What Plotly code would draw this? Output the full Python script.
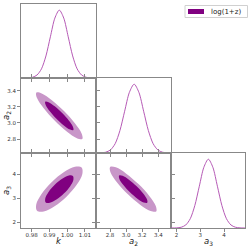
import plotly.graph_objects as go

# ---------------- data ----------------
param_names = ["k", "a2", "a3"]
legend_label = "log(1+z)"

k_range = [0.9741, 1.0162]
a2_range = [2.626, 3.558]
a3_range = [1.77, 4.88]

k_ticks = [0.98, 0.99, 1.00, 1.01]
k_ticklabels = ["0.98", "0.99", "1.00", "1.01"]
a2_ticks = [2.8, 3.0, 3.2, 3.4]
a2_ticklabels = ["2.8", "3.0", "3.2", "3.4"]
a3_ticks = [2, 3, 4]
a3_ticklabels = ["2", "3", "4"]

# 1D marginals (normalised density)
k_1d_x = [0.9741, 0.9781, 0.9806, 0.9831, 0.9856, 0.9881, 0.9906, 0.9931, 0.9956,
          0.9981, 1.0006, 1.0031, 1.0056, 1.0081, 1.0106, 1.0131, 1.0162]
k_1d_p = [0, 0.002, 0.011, 0.044, 0.135, 0.325, 0.607, 0.882, 1.0,
          0.882, 0.607, 0.325, 0.135, 0.044, 0.011, 0.002, 0]
a2_1d_x = [2.626, 2.687, 2.746, 2.805, 2.864, 2.923, 2.982, 3.041, 3.100,
           3.159, 3.218, 3.277, 3.336, 3.395, 3.454, 3.513, 3.558]
a2_1d_p = [0, 0.002, 0.011, 0.044, 0.135, 0.325, 0.607, 0.882, 1.0,
           0.882, 0.607, 0.325, 0.135, 0.044, 0.011, 0.002, 0]
a3_1d_x = [1.77, 2.01, 2.20, 2.39, 2.58, 2.77, 2.96, 3.15, 3.34,
           3.53, 3.72, 3.91, 4.10, 4.29, 4.48, 4.67, 4.88]
a3_1d_p = [0, 0.002, 0.011, 0.044, 0.135, 0.325, 0.607, 0.882, 1.0,
           0.882, 0.607, 0.325, 0.135, 0.044, 0.011, 0.002, 0]

# 2D contours (95% outer, 68% inner), closed boundaries
k_a2_outer_k = [0.99824, 0.99142, 0.98572, 0.98267, 0.98308, 0.98685, 0.99296,
                0.99978, 1.00548, 1.00853, 1.00812, 1.00435, 0.99824]
k_a2_outer_a2 = [3.1468, 3.2828, 3.3667, 3.3759, 3.3080, 3.1811, 3.0292,
                 2.8932, 2.8093, 2.8001, 2.8680, 2.9949, 3.1468]
k_a2_inner_k = [0.99721, 0.99305, 0.98957, 0.98771, 0.98796, 0.99026, 0.99399,
                0.99815, 1.00163, 1.00350, 1.00324, 1.00094, 0.99721]
k_a2_inner_a2 = [3.1239, 3.2069, 3.2582, 3.2638, 3.2223, 3.1448, 3.0521,
                 2.9691, 2.9178, 2.9122, 2.9537, 3.0312, 3.1239]

k_a3_outer_k = [0.99143, 0.98573, 0.98267, 0.98308, 0.98684, 0.99295, 0.99977,
                1.00547, 1.00853, 1.00812, 1.00436, 0.99825, 0.99143]
k_a3_outer_a3 = [3.6792, 3.1902, 2.7522, 2.4823, 2.4530, 2.6721, 3.0808,
                 3.5698, 4.0078, 4.2777, 4.3070, 4.0879, 3.6792]
k_a3_inner_k = [0.99305, 0.98957, 0.98771, 0.98796, 0.99026, 0.99398, 0.99815,
                1.00163, 1.00349, 1.00324, 1.00095, 0.99722, 0.99305]
k_a3_inner_a3 = [3.5626, 3.2641, 2.9968, 2.8320, 2.8141, 2.9478, 3.1974,
                 3.4959, 3.7632, 3.9280, 3.9459, 3.8122, 3.5626]

a2_a3_outer_a2 = [3.1537, 3.0017, 2.8728, 2.8016, 2.8071, 2.8879, 3.0223,
                  3.1743, 3.3032, 3.3744, 3.3689, 3.2881, 3.1537]
a2_a3_outer_a3 = [3.5916, 4.0244, 4.2845, 4.3023, 4.0729, 3.6580, 3.1684,
                  2.7356, 2.4755, 2.4577, 2.6871, 3.1020, 3.5916]
a2_a3_inner_a2 = [3.1281, 3.0353, 2.9567, 2.9132, 2.9165, 2.9659, 3.0479,
                  3.1407, 3.2193, 3.2628, 3.2595, 3.2101, 3.1281]
a2_a3_inner_a3 = [3.5092, 3.7733, 3.9321, 3.9430, 3.8030, 3.5497, 3.2508,
                  2.9867, 2.8279, 2.8170, 2.9570, 3.2103, 3.5092]

# ---------------- styling ----------------
DARK = "#800080"
LIGHT = "#c896c8"
LINE1D = "#b65ab6"
FRAME = "#888888"
TICKFONT = dict(family="DejaVu Sans", size=5.5, color="#333333")
W = H = 249

e0, e1, e2, e3 = 21 / W, 96 / W, 171 / W, 245 / W
cols = [[e0, e1], [e1, e2], [e2, e3]]
rows = [[1 - 78 / H, 1 - 4 / H], [1 - 153 / H, 1 - 78 / H], [1 - 228 / H, 1 - 153 / H]]

fig = go.Figure()


def add_fill(x, y, color, xa, ya):
    fig.add_trace(go.Scatter(x=x, y=y, mode="lines", fill="toself", fillcolor=color,
                             line=dict(width=0, color=color, shape="spline", smoothing=1.0),
                             hoverinfo="skip", showlegend=False, xaxis=xa, yaxis=ya))


def add_1d(x, y, xa, ya):
    fig.add_trace(go.Scatter(x=x, y=y, mode="lines",
                             line=dict(width=1, color=LINE1D, shape="spline", smoothing=0.8),
                             hoverinfo="skip", showlegend=False, xaxis=xa, yaxis=ya))


# diagonal
add_1d(k_1d_x, k_1d_p, "x", "y")
add_1d(a2_1d_x, a2_1d_p, "x3", "y3")
add_1d(a3_1d_x, a3_1d_p, "x6", "y6")
# 2D
add_fill(k_a2_outer_k, k_a2_outer_a2, LIGHT, "x2", "y2")
add_fill(k_a2_inner_k, k_a2_inner_a2, DARK, "x2", "y2")
add_fill(k_a3_outer_k, k_a3_outer_a3, LIGHT, "x4", "y4")
add_fill(k_a3_inner_k, k_a3_inner_a3, DARK, "x4", "y4")
add_fill(a2_a3_outer_a2, a2_a3_outer_a3, LIGHT, "x5", "y5")
add_fill(a2_a3_inner_a2, a2_a3_inner_a3, DARK, "x5", "y5")


def axis(domain, rng, tickvals, ticktext, labels, mirror_ticks=True, anchor=None,
         show_ticks=True, standoff=0):
    d = dict(domain=domain, range=rng, showgrid=False, zeroline=False,
             showline=True, linecolor=FRAME, linewidth=1,
             mirror="ticks" if mirror_ticks else True,
             ticks="outside" if show_ticks else "", ticklen=3, tickwidth=1, tickcolor=FRAME,
             tickvals=tickvals, ticktext=ticktext, showticklabels=labels,
             tickfont=TICKFONT, fixedrange=True, automargin=False,
             ticklabelstandoff=standoff)
    if anchor:
        d["anchor"] = anchor
    return d


lay = {}
lay["xaxis"] = axis(cols[0], k_range, k_ticks, k_ticklabels, False, False, "y")
lay["yaxis"] = axis(rows[0], [0, 1.09], [], [], False, False, "x", show_ticks=False)
lay["xaxis2"] = axis(cols[0], k_range, k_ticks, k_ticklabels, False, True, "y2")
lay["yaxis2"] = axis(rows[1], a2_range, a2_ticks, a2_ticklabels, True, True, "x2")
lay["xaxis3"] = axis(cols[1], a2_range, a2_ticks, a2_ticklabels, False, False, "y3")
lay["yaxis3"] = axis(rows[1], [0, 1.09], [], [], False, False, "x3", show_ticks=False)
lay["xaxis4"] = axis(cols[0], k_range, k_ticks, k_ticklabels, True, True, "y4", standoff=-2)
lay["yaxis4"] = axis(rows[2], a3_range, a3_ticks, a3_ticklabels, True, True, "x4")
lay["xaxis5"] = axis(cols[1], a2_range, a2_ticks, a2_ticklabels, True, True, "y5", standoff=-2)
lay["yaxis5"] = axis(rows[2], a3_range, a3_ticks, a3_ticklabels, False, True, "x5")
lay["xaxis6"] = axis(cols[2], a3_range, a3_ticks, a3_ticklabels, True, False, "y6", standoff=-2)
lay["yaxis6"] = axis(rows[2], [0, 1.09], [], [], False, False, "x6", show_ticks=False)

TITLEFONT = dict(family="DejaVu Sans", size=8.5, color="#222222")
ty = 1 - 241 / H
annotations = [
    dict(text="<i>k</i>", x=(e0 + e1) / 2, y=ty, xref="paper", yref="paper",
         showarrow=False, font=TITLEFONT, xanchor="center", yanchor="middle"),
    dict(text="<i>a</i><sub>2</sub>", x=(e1 + e2) / 2, y=ty, xref="paper", yref="paper",
         showarrow=False, font=TITLEFONT, xanchor="center", yanchor="middle"),
    dict(text="<i>a</i><sub>3</sub>", x=(e2 + e3) / 2, y=ty, xref="paper", yref="paper",
         showarrow=False, font=TITLEFONT, xanchor="center", yanchor="middle"),
    dict(text="<i>a</i><sub>2</sub>", x=6.5 / W, y=(rows[1][0] + rows[1][1]) / 2, xref="paper",
         yref="paper", showarrow=False, font=TITLEFONT, textangle=-90,
         xanchor="center", yanchor="middle"),
    dict(text="<i>a</i><sub>3</sub>", x=6.5 / W, y=(rows[2][0] + rows[2][1]) / 2, xref="paper",
         yref="paper", showarrow=False, font=TITLEFONT, textangle=-90,
         xanchor="center", yanchor="middle"),
    # legend text
    dict(text=legend_label, x=209 / W, y=1 - 11.5 / H, xref="paper", yref="paper",
         showarrow=False, font=dict(family="DejaVu Sans", size=7, color="#222222"),
         xanchor="left", yanchor="middle"),
]

shapes = [
    # legend frame
    dict(type="rect", xref="paper", yref="paper", x0=185 / W, x1=247.5 / W,
         y0=1 - 17.5 / H, y1=1 - 5.5 / H, line=dict(color="#d0d0d0", width=1),
         fillcolor="white", layer="above"),
    # legend patch
    dict(type="rect", xref="paper", yref="paper", x0=188 / W, x1=204 / W,
         y0=1 - 14 / H, y1=1 - 9 / H, line=dict(width=0), fillcolor=DARK, layer="above"),
]

fig.update_layout(
    width=W, height=H,
    margin=dict(l=0, r=0, t=0, b=0, autoexpand=False),
    paper_bgcolor="white", plot_bgcolor="white",
    showlegend=False,
    annotations=annotations,
    shapes=shapes,
    **lay,
)

fig.write_html("out.html",
               config={"displayModeBar": False, "staticPlot": True},
               post_script="document.body.style.margin='0';document.body.style.overflow='hidden';")
